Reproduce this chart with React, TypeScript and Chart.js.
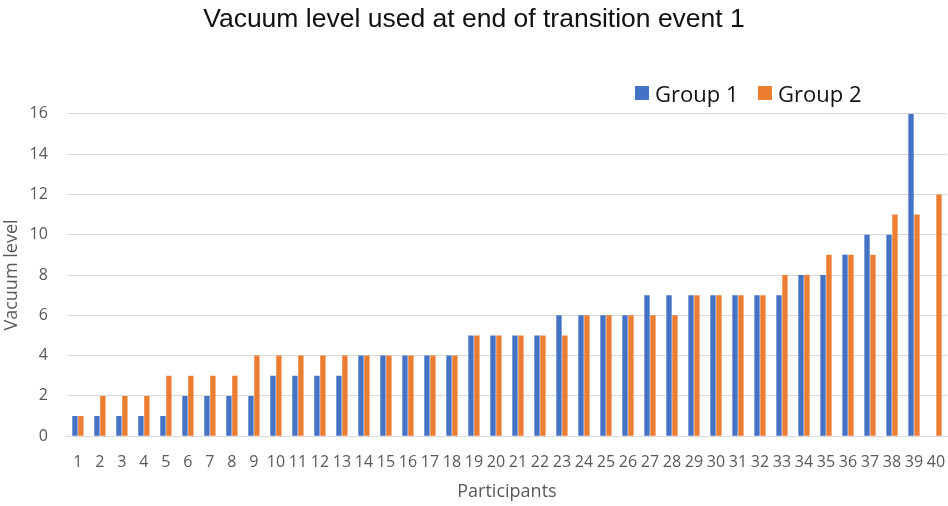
import { useEffect, useRef } from 'react'
import { Chart, registerables } from 'chart.js'

Chart.register(...registerables)

// participants 1..40
const participants = Array.from({ length: 40 }, (_, i) => String(i + 1))

const group1 = [
  1, 1, 1, 1, 1, 2, 2, 2, 2, 3,
  3, 3, 3, 4, 4, 4, 4, 4, 5, 5,
  5, 5, 6, 6, 6, 6, 7, 7, 7, 7,
  7, 7, 7, 8, 8, 9, 10, 10, 16, 0,
]

const group2 = [
  1, 2, 2, 2, 3, 3, 3, 3, 4, 4,
  4, 4, 4, 4, 4, 4, 4, 4, 5, 5,
  5, 5, 5, 6, 6, 6, 6, 6, 7, 7,
  7, 7, 8, 8, 9, 9, 9, 11, 11, 12,
]

const seriesNames = ['Group 1', 'Group 2']
const seriesColors = ['#4472C4', '#ED7D31']

const yMin = 0
const yMax = 16
const yStep = 2

const axisFont = '"Open Sans", sans-serif'
const tickColor = '#595959'
const gridColor = '#d9d9d9'

export default function App() {
  const canvasRef = useRef<HTMLCanvasElement | null>(null)
  const chartRef = useRef<Chart | null>(null)

  useEffect(() => {
    document.body.style.margin = '0'
    const ctx = canvasRef.current?.getContext('2d')
    if (!ctx) return

    chartRef.current = new Chart(ctx, {
      type: 'bar',
      data: {
        labels: participants,
        datasets: [
          {
            label: seriesNames[0],
            data: group1,
            backgroundColor: seriesColors[0],
            categoryPercentage: 0.54,
            barPercentage: 0.9,
          },
          {
            label: seriesNames[1],
            data: group2,
            backgroundColor: seriesColors[1],
            categoryPercentage: 0.54,
            barPercentage: 0.9,
          },
        ],
      },
      options: {
        responsive: false,
        animation: false,
        layout: { padding: { left: 1, right: 1, top: 0, bottom: 3 } },
        plugins: {
          legend: { display: false },
          tooltip: { enabled: false },
          title: {
            display: true,
            text: 'Vacuum level used at end of transition event 1',
            color: '#111111',
            font: { family: '"Liberation Sans", Arial, sans-serif', size: 26.5, weight: 'normal' },
            padding: { top: 4, bottom: 78 },
          },
        },
        scales: {
          x: {
            // tick marks are invisible; their length only spaces the labels
            grid: {
              display: true,
              drawOnChartArea: false,
              drawTicks: true,
              tickLength: 17,
              color: 'transparent',
              tickColor: 'transparent',
            },
            border: { display: true, color: gridColor, width: 1 },
            ticks: {
              color: tickColor,
              font: { family: axisFont, size: 16 },
              padding: 0,
              autoSkip: false,
              maxRotation: 0,
              minRotation: 0,
            },
            title: {
              display: true,
              text: 'Participants',
              color: tickColor,
              font: { family: axisFont, size: 18 },
              padding: { top: 9, bottom: 0 },
            },
          },
          y: {
            min: yMin,
            max: yMax,
            grid: {
              color: gridColor,
              lineWidth: 1,
              drawTicks: true,
              tickLength: 19,
              tickColor: 'transparent',
            },
            border: { display: false },
            ticks: {
              stepSize: yStep,
              color: tickColor,
              font: { family: axisFont, size: 16 },
              padding: 0,
            },
            title: {
              display: true,
              text: 'Vacuum level',
              color: tickColor,
              font: { family: axisFont, size: 18 },
              padding: { top: 0, bottom: 7 },
            },
          },
        },
      },
    })

    return () => {
      chartRef.current?.destroy()
      chartRef.current = null
    }
  }, [])

  return (
    <div style={{ position: 'relative', width: 948, height: 506, background: '#fff' }}>
      <canvas ref={canvasRef} width={948} height={506} />
      {seriesNames.map((name, i) => (
        <div
          key={name}
          style={{
            position: 'absolute',
            top: 79,
            left: i === 0 ? 635 : 758,
            display: 'flex',
            alignItems: 'center',
            fontFamily: axisFont,
            fontSize: 22,
            lineHeight: '28px',
            color: '#111111',
            whiteSpace: 'nowrap',
          }}
        >
          <span
            style={{
              display: 'inline-block',
              width: 14,
              height: 14,
              background: seriesColors[i],
              marginRight: 6,
            }}
          />
          {name}
        </div>
      ))}
    </div>
  )
}
